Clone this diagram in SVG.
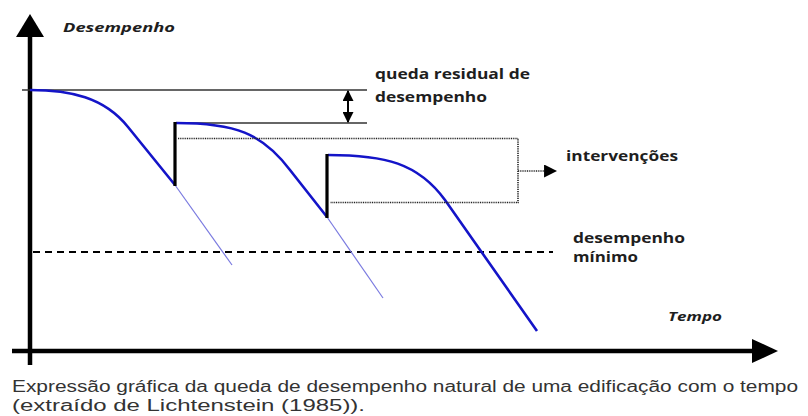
<svg xmlns="http://www.w3.org/2000/svg" width="808" height="416" viewBox="0 0 808 416">
<defs>
<style>
.lbl{font-family:"Open Sans","Liberation Sans",sans-serif;font-weight:bold;font-size:14px;fill:#1e1e1e}
.ax{font-family:"Open Sans","Liberation Sans",sans-serif;font-weight:bold;font-style:italic;font-size:12.5px;fill:#1e1e1e}
.cap{font-family:"Liberation Sans",Arial,sans-serif;font-size:16px;fill:#333}
.curve{fill:none;stroke:#1414c8;stroke-width:2.6;stroke-linejoin:round}
.ext{fill:none;stroke:#7a7ae0;stroke-width:1.2}
.jump{stroke:#000;stroke-width:3.2}
.ref{stroke:#333;stroke-width:1.3}
.dot{fill:none;stroke:#222;stroke-width:1.6;stroke-dasharray:1 0.8}
</style>
<marker id="ah" viewBox="0 0 10 10" refX="9" refY="5" markerWidth="11" markerHeight="11" markerUnits="userSpaceOnUse" orient="auto-start-reverse">
<path d="M0,0 L10,5 L0,10 z" fill="#000"/>
</marker>
<marker id="ah2" viewBox="0 0 12 12" refX="11" refY="6" markerWidth="13" markerHeight="13" markerUnits="userSpaceOnUse" orient="auto">
<path d="M0,0 L12,6 L0,12 z" fill="#000"/>
</marker>
</defs>
<rect width="808" height="416" fill="#fff"/>

<g id="axes">
<line x1="30" y1="365" x2="30" y2="34" stroke="#000" stroke-width="4.5"/>
<path d="M16,37 L30,14 L44,37 z" fill="#000"/>
<line x1="12" y1="351" x2="754" y2="351" stroke="#000" stroke-width="4.5"/>
<path d="M752,339 L778,351 L752,363 z" fill="#000"/>
<text class="ax" x="63" y="32" textLength="112" lengthAdjust="spacingAndGlyphs">Desempenho</text>
<text class="ax" x="668" y="321" textLength="54" lengthAdjust="spacingAndGlyphs">Tempo</text>
</g>

<g id="reference-lines">
<line class="ref" x1="22" y1="90" x2="367" y2="90"/>
<line class="ref" x1="176" y1="123" x2="367" y2="123"/>
<line x1="33" y1="252" x2="553" y2="252" stroke="#000" stroke-width="2" stroke-dasharray="7 5"/>
</g>

<g id="curves">
<path class="ext" d="M175,185 L232,265"/>
<path class="ext" d="M327,217 L383,298"/>
<path class="curve" d="M30,90 C 70,90 104,97 128,127 L175,185"/>
<path class="curve" d="M176,123 C 235,123 262,133 290,170 L327,217"/>
<path class="curve" d="M328,155 C 385,155 418,163 445,200 L537,331"/>
<line class="jump" x1="175" y1="186" x2="175" y2="122"/>
<line class="jump" x1="327" y1="218" x2="327" y2="154"/>
</g>

<g id="interventions-box">
<path class="dot" d="M178,138.5 L518,138.5 L518,202.5 L330,202.5"/>
</g>

<g id="connectors">
<line x1="348" y1="91" x2="348" y2="122" stroke="#000" stroke-width="2" marker-start="url(#ah)" marker-end="url(#ah)"/>
<line class="dot" x1="518" y1="171" x2="556" y2="171" marker-end="url(#ah2)"/>
</g>

<g id="label-queda">
<text class="lbl" x="375" y="79" textLength="155" lengthAdjust="spacingAndGlyphs">queda residual de</text>
<text class="lbl" x="375" y="102" textLength="112" lengthAdjust="spacingAndGlyphs">desempenho</text>
</g>
<g id="label-intervencoes">
<text class="lbl" x="566" y="161" textLength="112" lengthAdjust="spacingAndGlyphs">intervenções</text>
</g>
<g id="label-minimo">
<text class="lbl" x="573" y="243" textLength="112" lengthAdjust="spacingAndGlyphs">desempenho</text>
<text class="lbl" x="573" y="262" textLength="65" lengthAdjust="spacingAndGlyphs">mínimo</text>
</g>

<g id="caption">
<text class="cap" x="12" y="392" textLength="786" lengthAdjust="spacingAndGlyphs">Expressão gráfica da queda de desempenho natural de uma edificação com o tempo</text>
<text class="cap" x="12" y="411" textLength="353" lengthAdjust="spacingAndGlyphs">(extraído de Lichtenstein (1985)).</text>
</g>
</svg>
